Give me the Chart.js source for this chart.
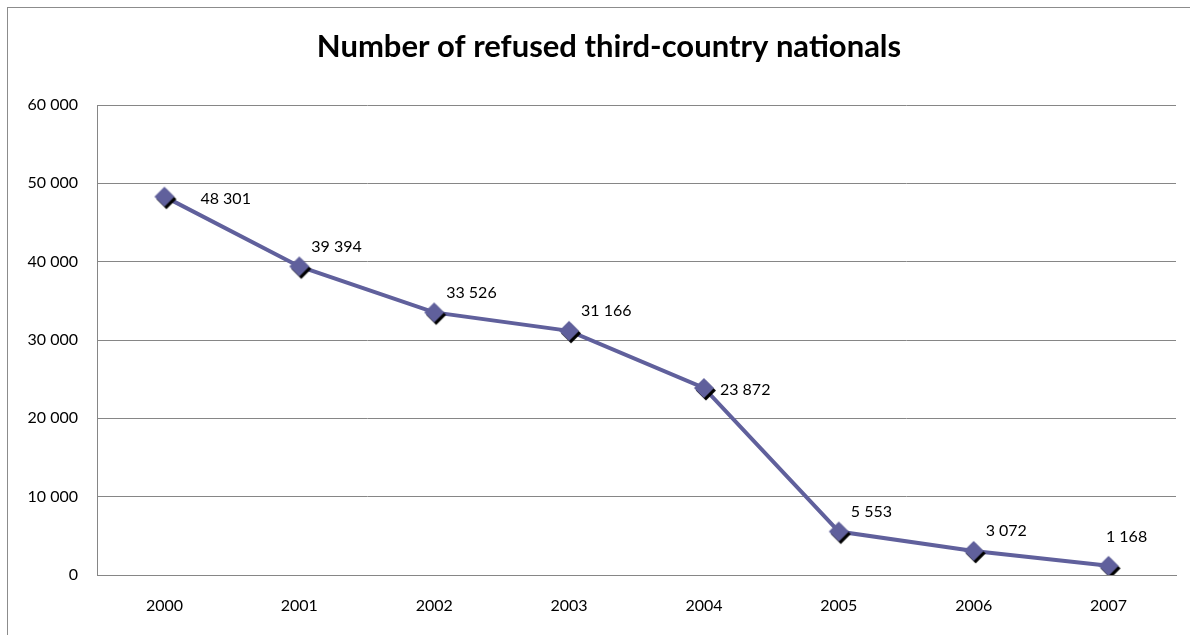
<!DOCTYPE html>
<html>
<head>
<meta charset="utf-8">
<script src="https://cdn.jsdelivr.net/npm/chart.js@4/dist/chart.umd.min.js"></script>
<style>
  html, body { margin: 0; padding: 0; background: #fff; }
  #wrap { position: relative; width: 1190px; height: 635px; }
  #frame { position: absolute; left: 7px; top: 7px; right: -2px; bottom: -2px; border: 1px solid #8c8c8c; }
</style>
</head>
<body>
<div id="wrap">
  <div id="frame"></div>
  <canvas id="refusedChart" width="1190" height="635"></canvas>
</div>
<script>
const years = ["2000", "2001", "2002", "2003", "2004", "2005", "2006", "2007"];
const refused = [48301, 39394, 33526, 31166, 23872, 5553, 3072, 1168];
// where each value label sits relative to its point
const labelPlace = ["farRight", "above", "above", "above", "right", "above", "above", "top"];
const titleText = "Number of refused third-country nationals";

const lineColor = "#60609c";
const fontFamily = "Lato, 'Open Sans', sans-serif";

// "48 301" style numbers
function spaced(n) {
  return String(n).replace(/\B(?=(\d{3})+(?!\d))/g, " ");
}

// diamond marker with a small black drop shadow
function makeDiamond() {
  const c = document.createElement("canvas");
  c.width = 28;
  c.height = 28;
  const g = c.getContext("2d");
  const r = 10;
  function diamond(cx, cy, color) {
    g.beginPath();
    g.moveTo(cx, cy - r);
    g.lineTo(cx + r, cy);
    g.lineTo(cx, cy + r);
    g.lineTo(cx - r, cy);
    g.closePath();
    g.fillStyle = color;
    g.fill();
  }
  diamond(16, 16.5, "#000");
  diamond(14, 14, lineColor);
  return c;
}

// title sits centred over the whole chart box, a bit right of the canvas middle
const chartTitle = {
  id: "chartTitle",
  afterDraw(chart) {
    const ctx = chart.ctx;
    ctx.save();
    ctx.font = "bold 31px " + fontFamily;
    ctx.fillStyle = "#000";
    ctx.textAlign = "center";
    ctx.textBaseline = "middle";
    ctx.fillText(titleText, 609, 47);
    ctx.restore();
  }
};

const valueLabels = {
  id: "valueLabels",
  afterDatasetsDraw(chart) {
    const ctx = chart.ctx;
    const meta = chart.getDatasetMeta(0);
    ctx.save();
    ctx.font = "16px " + fontFamily;
    ctx.fillStyle = "#000";
    ctx.textBaseline = "middle";
    meta.data.forEach((pt, i) => {
      const text = spaced(refused[i]);
      const place = labelPlace[i];
      ctx.textAlign = "left";
      if (place === "farRight") {
        ctx.fillText(text, pt.x + 36, pt.y + 2);
      } else if (place === "right") {
        ctx.fillText(text, pt.x + 16, pt.y + 2);
      } else if (place === "top") {
        ctx.textAlign = "center";
        ctx.fillText(text, pt.x + 18, pt.y - 29);
      } else {
        ctx.fillText(text, pt.x + 12, pt.y - 20);
      }
    });
    ctx.restore();
  }
};

new Chart(document.getElementById("refusedChart"), {
  type: "line",
  data: {
    labels: years,
    datasets: [{
      data: refused,
      borderColor: lineColor,
      borderWidth: 4,
      pointStyle: makeDiamond(),
      pointRadius: 10,
      tension: 0
    }]
  },
  plugins: [valueLabels, chartTitle],
  options: {
    responsive: false,
    animation: false,
    layout: { padding: { left: 8, right: -2, top: 105, bottom: 0 } },
    plugins: {
      legend: { display: false },
      tooltip: { enabled: false },
      title: { display: false }
    },
    scales: {
      x: {
        offset: true,
        grid: { display: false, drawTicks: false },
        border: { color: "#868686", width: 1 },
        afterFit(scale) { scale.height = 60; },
        ticks: {
          color: "#000",
          padding: 21,
          font: { family: fontFamily, size: 16 }
        }
      },
      y: {
        min: 0,
        max: 60000,
        grid: { color: "#868686", drawTicks: false },
        border: { color: "#868686", width: 1 },
        afterFit(scale) { scale.width = 89; },
        ticks: {
          stepSize: 10000,
          color: "#000",
          padding: 19,
          font: { family: fontFamily, size: 16 },
          callback: v => spaced(v)
        }
      }
    }
  }
});
</script>
</body>
</html>
